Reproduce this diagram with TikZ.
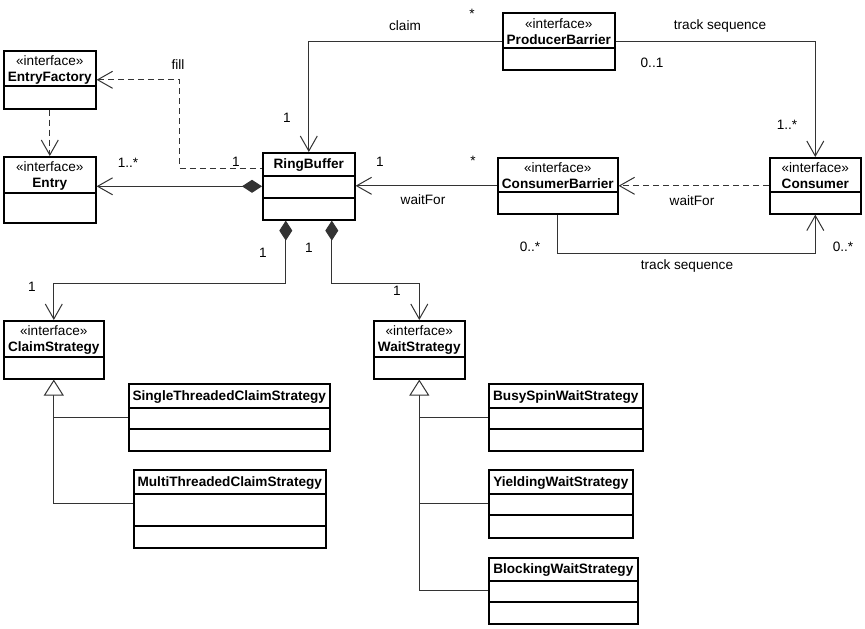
\documentclass[tikz,border=0pt]{standalone}
\usepackage{fontspec}
\setmainfont{Liberation Sans}
\usetikzlibrary{arrows.meta,calc}

% box: name, x, y, width, height, header height, header text
\newcommand{\umlbox}[7]{%
  \node[classbox, minimum width=#4pt, minimum height=#5pt] (#1) at (#2,#3) {};
  \node[headtext] (#1 head) at ($(#1.north)+(0,#6/2+1.5)$) {#7};
  \draw[classline] ($(#1.north west)+(0,#6)$) -- ($(#1.north east)+(0,#6)$);
}

\begin{document}
\begin{tikzpicture}[x=1pt, y=-1pt,
    every node/.style={font=\fontsize{13.6}{16}\selectfont},
    classbox/.style={draw, line width=1.6pt, anchor=north west, inner sep=0pt},
    classline/.style={line width=1.6pt},
    headtext/.style={align=center, inner sep=0pt},
    lbl/.style={inner sep=0pt},
    >={Straight Barb[length=15pt,width=17pt]},
    assoc/.style={line width=1pt, draw=black!80},
    depend/.style={assoc, dash pattern=on 6pt off 4pt},
    compose/.style={assoc, {Diamond[length=20pt,width=13pt]}->},
    inherit/.style={assoc, -{Triangle[length=16pt,width=20pt,fill=white]}}]
  \fill[white] (0,0) rectangle (865,629);
  \useasboundingbox (0,0) rectangle (865,629);

  \umlbox{factory}{3}{50}{92}{58}{36}{«interface»\\\textbf{EntryFactory}}
  \umlbox{entry}{3}{156}{92}{66}{37}{«interface»\\\textbf{Entry}}
  \umlbox{ring}{262}{152}{92}{67}{24}{\textbf{RingBuffer}}
  \umlbox{producer}{502}{12}{112}{57}{36}{«interface»\\\textbf{ProducerBarrier}}
  \umlbox{cbarrier}{497}{157}{120}{56}{35}{«interface»\\\textbf{ConsumerBarrier}}
  \umlbox{consumer}{769}{157}{91}{56}{35}{«interface»\\\textbf{Consumer}}
  \umlbox{claim}{3}{320}{100}{58}{37}{«interface»\\\textbf{ClaimStrategy}}
  \umlbox{wait}{373}{320}{91}{58}{37}{«interface»\\\textbf{WaitStrategy}}
  \umlbox{single}{128}{383}{201}{67}{25}{\textbf{SingleThreadedClaimStrategy}}
  \umlbox{multi}{133}{469}{192}{78}{25}{\textbf{MultiThreadedClaimStrategy}}
  \umlbox{busy}{488}{383}{154}{67}{25}{\textbf{BusySpinWaitStrategy}}
  \umlbox{yield}{488}{469}{144}{68}{25}{\textbf{YieldingWaitStrategy}}
  \umlbox{block}{488}{557}{149}{66}{24}{\textbf{BlockingWaitStrategy}}
  \foreach \b/\d in {ring/46, single/46, multi/57, busy/46, yield/46, block/45}
    \draw[classline] ($(\b.north west)+(0,\d)$) -- ($(\b.north east)+(0,\d)$);

  % entries
  \draw[depend,->] (factory.south) -- (entry.north);
  \draw[depend,<-] (factory.east) -- ++(83,0) |- ($(ring.north west)+(0,16)$);
  \draw[compose] (ring.west) -- (ring.west -| entry.east);
  \node[lbl] (fill lbl) at (178,65) {fill};
  \node[lbl] (fill one) at (236,162) {1};
  \node[lbl] (entry many) at (128,163) {1..*};

  % barriers
  \draw[assoc,->] (producer.west) -| (ring.north);
  \draw[assoc,->] (producer.east) -| (consumer.north);
  \draw[assoc,->] (cbarrier.west) -- (cbarrier.west -| ring.east);
  \draw[depend,->] (consumer.west) -- (cbarrier.east);
  \draw[assoc,->] (cbarrier.south) -- ++(0,39) -| (consumer.south);
  \node[lbl] (claim lbl) at (405,26) {claim};
  \node[lbl] (claim many) at (472,14) {*};
  \node[lbl] (claim one) at (287,118) {1};
  \node[lbl] (track top) at (720,26) {track sequence};
  \node[lbl] (track opt) at (652,63) {0..1};
  \node[lbl] (track many) at (787,125) {1..*};
  \node[lbl] (wait one) at (380,162) {1};
  \node[lbl] (wait many) at (473,161) {*};
  \node[lbl] (wait lbl) at (423,200) {waitFor};
  \node[lbl] (cwait lbl) at (692,201) {waitFor};
  \node[lbl] (track left) at (530,247) {0..*};
  \node[lbl] (track right) at (843,247) {0..*};
  \node[lbl] (track low) at (687,266) {track sequence};

  % strategies
  \draw[compose] ([xshift=-23pt]ring.south) -- ++(0,63) -| (claim.north);
  \draw[compose] ([xshift=23pt]ring.south) -- ++(0,63) -| (wait.north);
  \node[lbl] (cs one) at (263,253) {1};
  \node[lbl] (ws one) at (309,248) {1};
  \node[lbl] (claim end) at (32,287) {1};
  \node[lbl] (wait end) at (397,291) {1};

  \draw[inherit] ([yshift=5pt]multi.west) -| (claim.south);
  \draw[assoc] (single.west) -- (single.west -| claim.south);
  \draw[inherit] (block.west) -| (wait.south);
  \draw[assoc] (busy.west) -- (busy.west -| wait.south);
  \draw[assoc] (yield.west) -- (yield.west -| wait.south);
\end{tikzpicture}
\end{document}
